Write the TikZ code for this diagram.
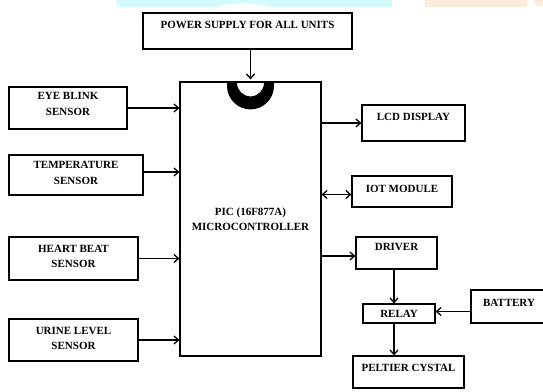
\documentclass[tikz,border=0pt]{standalone}
\usepackage{fontspec}
\setmainfont{Liberation Serif}
\usetikzlibrary{arrows.meta}

\definecolor{wmcyan}{HTML}{D4FBFB}
\definecolor{wmpeach}{HTML}{FDEBD9}

\tikzset{
  blk/.style={draw, line width=1.2pt, font=\bfseries\fontsize{11}{15.5}\selectfont, align=center, inner sep=0pt},
  arrow/.style={line width=1.3pt, -{Straight Barb[length=4.5pt,width=8pt]}},
  darrow/.style={line width=1.3pt, {Straight Barb[length=4.5pt,width=8pt]}-{Straight Barb[length=4.5pt,width=8pt]}},
}

\begin{document}
\begin{tikzpicture}[x=1pt, y=-1pt]

% -------------------------------------------------------
% canvas (pixel grid of the reference, y downwards)
% -------------------------------------------------------
\useasboundingbox (0,0) rectangle (543,391);

% faint strips at the top edge
\fill[wmcyan] (117,0) -- (392,0) -- (392,7) -- (270,7) .. controls (250,2) and (235,2) .. (215,7) -- (117,7) -- cycle;
\fill[wmpeach] (425,0) -- (527,0) -- (527,7) -- (425,7) -- cycle;
\fill[wmpeach] (533,0) -- (543,0) -- (543,6) -- (537,6) -- cycle;

%%%%%% BLOCKS
% power and controller
\node[blk, minimum width=209pt, minimum height=36pt, text depth=12pt] (power) at (247.5,31) {POWER SUPPLY FOR ALL UNITS};
\node[blk, minimum width=141pt, minimum height=274pt] (mcu) at (250.5,219) {PIC (16F877A)\\[0pt]MICROCONTROLLER};

% sensors (left column)
\node[blk, minimum width=118pt, minimum height=42pt, text depth=8pt] (eye) at (68,108) {EYE BLINK\\SENSOR};
\node[blk, minimum width=134pt, minimum height=40pt, text depth=4pt] (temp) at (76,175) {TEMPERATURE\\SENSOR};
\node[blk, minimum width=129pt, minimum height=43pt, text depth=4pt] (heart) at (73.5,258.5) {HEART BEAT\\SENSOR};
\node[blk, minimum width=129pt, minimum height=42pt, text depth=3pt] (urine) at (73.5,340) {URINE LEVEL\\SENSOR};

% outputs (right column)
\node[blk, minimum width=103pt, minimum height=36pt, text depth=12pt] (lcd) at (413.5,123) {LCD DISPLAY};
\node[blk, minimum width=100pt, minimum height=31pt, text depth=5pt] (iot) at (402,191.5) {IOT MODULE};
\node[blk, minimum width=81pt, minimum height=32pt, text depth=12pt] (driver) at (396.5,253) {DRIVER};
\node[blk, minimum width=72pt, minimum height=19pt] (relay) at (399,313.5) {RELAY};
\node[blk, minimum width=76pt, minimum height=33pt, text depth=8pt] (battery) at (509,306.5) {BATTERY};
\node[blk, minimum width=111pt, minimum height=32pt, text depth=8pt] (peltier) at (408.5,372) {PELTIER CYSTAL};

% notch of the chip
\fill (mcu.north) ++(-23.5pt,0) -- ++(0,-4.5pt) arc[start angle=180, end angle=360, radius=23.5pt]
  -- ++(0,4.5pt) -- ++(-10pt,0) -- ++(0,-1.5pt) arc[start angle=0, end angle=-180, radius=13.5pt]
  -- ++(0,1.5pt) -- cycle;

%%%%%% CONNECTIONS
\draw[arrow] (power.south -| mcu.north) -- ([yshift=2pt]mcu.north);
\draw[arrow] (eye.east) -- (eye.east -| mcu.west);
\draw[arrow] ([yshift=3pt]temp.east) -- ([yshift=3pt]temp.east -| mcu.west);
\draw[arrow] (heart.east) -- (heart.east -| mcu.west);
\draw[arrow] (urine.east) -- (urine.east -| mcu.west);

\draw[arrow] (lcd.west -| mcu.east) -- (lcd.west);
\draw[darrow] ([yshift=-3pt]iot.west -| mcu.east) -- ([yshift=-3pt]iot.west);
\draw[arrow] ([yshift=-3pt]driver.west -| mcu.east) -- ([yshift=-3pt]driver.west);

\draw[arrow] ([xshift=-5pt]relay.north |- driver.south) -- ([xshift=-5pt]relay.north);
\draw[arrow] ([yshift=2pt]battery.west |- relay.east) -- ([yshift=2pt]relay.east);
\draw[arrow] ([xshift=-5pt]relay.south) -- ([xshift=-5pt]relay.south |- peltier.north);

\end{tikzpicture}
\end{document}
